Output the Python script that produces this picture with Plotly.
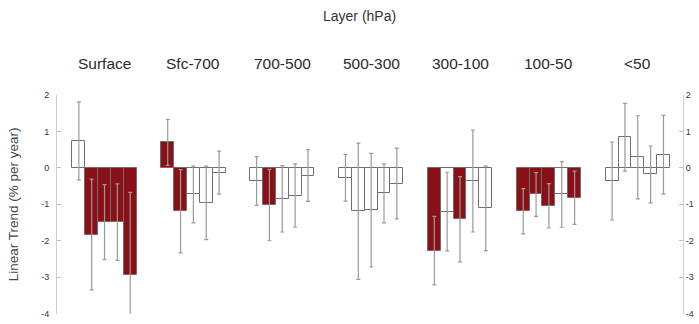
import plotly.graph_objects as go

# Layers (hPa) and per-layer linear trends (% per year) for five datasets each
layers = ["Surface", "Sfc-700", "700-500", "500-300", "300-100", "100-50", "<50"]

trends = [
    [0.74, -1.83, -1.49, -1.49, -2.94],
    [0.70, -1.19, -0.73, -0.96, -0.13],
    [-0.36, -1.02, -0.85, -0.76, -0.21],
    [-0.27, -1.19, -1.16, -0.70, -0.43],
    [-2.27, -1.20, -1.41, -0.36, -1.11],
    [-1.19, -0.73, -1.04, -0.73, -0.82],
    [-0.36, 0.84, 0.29, -0.18, 0.36],
]

uncertainty = [
    [1.07, 1.52, 1.03, 1.05, 2.27],
    [0.63, 1.14, 0.78, 1.01, 0.59],
    [0.67, 0.98, 0.91, 0.87, 0.71],
    [0.64, 1.87, 1.56, 0.81, 0.97],
    [0.94, 1.08, 1.17, 1.40, 1.16],
    [0.62, 0.60, 0.61, 0.90, 0.73],
    [1.07, 0.93, 1.14, 0.78, 1.08],
]

# 1 = statistically significant trend (filled bar)
significant = [
    [0, 1, 1, 1, 1],
    [1, 1, 0, 0, 0],
    [0, 1, 0, 0, 0],
    [0, 0, 0, 0, 0],
    [1, 0, 1, 0, 0],
    [1, 1, 1, 0, 1],
    [0, 0, 0, 0, 0],
]

y_ticks = [2, 1, 0, -1, -2, -3, -4]

GROUP_STEP = 6.92
RED = "#8a1018"

xs, ys, errs, fills = [], [], [], []
for g, (vals, es, sig) in enumerate(zip(trends, uncertainty, significant)):
    for j, (v, e, s) in enumerate(zip(vals, es, sig)):
        xs.append(g * GROUP_STEP + j)
        ys.append(v)
        errs.append(e)
        fills.append(RED if s else "white")

fig = go.Figure()
fig.add_trace(go.Bar(
    x=xs, y=ys, width=1.0,
    marker=dict(color=fills, line=dict(color="#6e6e6e", width=1)),
    error_y=dict(type="data", array=errs, visible=True,
                 color="#9a9a9a", thickness=1.2, width=2),
    showlegend=False, hoverinfo="skip",
))
# invisible companion so the right-hand axis is drawn
fig.add_trace(go.Scatter(x=[xs[0]], y=[0], yaxis="y2", mode="markers",
                         marker=dict(opacity=0), showlegend=False,
                         hoverinfo="skip"))

axis_common = dict(
    range=[-4.01, 2.0], tickvals=y_ticks,
    ticktext=[str(t) for t in y_ticks],
    showgrid=False, zeroline=False, showline=True, linecolor="#cfcfcf",
    linewidth=1, ticks="inside", ticklen=4, tickcolor="#bdbdbd",
    tickfont=dict(family="Liberation Sans", size=9, color="#333333"),
    ticklabeloverflow="allow",
)

fig.update_layout(
    width=699, height=324,
    margin=dict(l=57, r=15, t=95, b=5),
    paper_bgcolor="white", plot_bgcolor="white",
    bargap=0,
    xaxis=dict(range=[-1.70, 47.04], showticklabels=False, showgrid=False,
               zeroline=False, showline=False, ticks=""),
    yaxis=dict(**axis_common, ticklabelstandoff=5),
    yaxis2=dict(**axis_common, overlaying="y", side="right"),
)

# y-axis label, placed in the left margin
fig.add_annotation(x=-0.069, y=0.5, xref="paper", yref="paper",
                   text="Linear Trend (% per year)", textangle=-90,
                   showarrow=False, xanchor="center", yanchor="middle",
                   font=dict(family="Liberation Sans", size=13.5,
                             color="#444444"))

# layer labels above each group
for g, name in enumerate(layers):
    fig.add_annotation(x=g * GROUP_STEP + 2, y=1.143, xref="x", yref="paper",
                       text=name, showarrow=False, yanchor="middle",
                       font=dict(family="Liberation Sans", size=15.5,
                                 color="#2a2a2a"))

fig.add_annotation(x=0.483, y=1.361, xref="paper", yref="paper",
                   text="Layer (hPa)", showarrow=False, yanchor="middle",
                   font=dict(family="Liberation Sans", size=14,
                             color="#333333"))

fig.write_html("out.html")
